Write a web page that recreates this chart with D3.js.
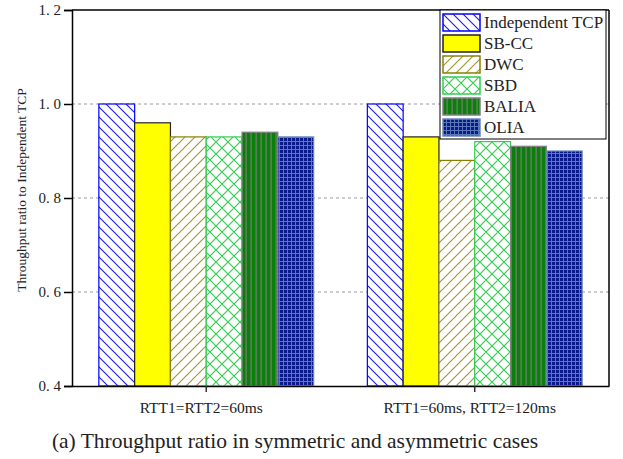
<!DOCTYPE html>
<html>
<head>
<meta charset="utf-8">
<script src="https://cdn.jsdelivr.net/npm/d3@7"></script>
<style>
  body { margin: 0; background: #fff; }
  svg text { font-family: "Liberation Serif", "Times New Roman", serif; }
</style>
</head>
<body>
<div id="chart"></div>
<script>
// chart data
var cases = ["RTT1=RTT2=60ms", "RTT1=60ms, RTT2=120ms"];
var schemes = ["Independent TCP", "SB-CC", "DWC", "SBD", "BALIA", "OLIA"];
var independentTcp = [1.00, 1.00];
var sbcc = [0.96, 0.93];
var dwc = [0.93, 0.88];
var sbd = [0.93, 0.92];
var balia = [0.94, 0.91];
var olia = [0.93, 0.90];
var yTicks = [0.4, 0.6, 0.8, 1.0, 1.2];

var seriesValues = [independentTcp, sbcc, dwc, sbd, balia, olia];

function main() {
    var margin = { top: 10, right: 14, bottom: 73, left: 72 };
    var width = 623 - margin.left - margin.right;
    var height = 459 - margin.top - margin.bottom;

    var svg = d3.select("#chart")
        .append("svg")
        .attr("width", 623)
        .attr("height", 459);

    // hatch patterns for each scheme
    var defs = svg.append("defs");

    var p1 = defs.append("pattern").attr("id", "pat0")
        .attr("patternUnits", "userSpaceOnUse").attr("width", 10).attr("height", 10);
    p1.append("rect").attr("width", 10).attr("height", 10).attr("fill", "#fff");
    p1.append("path").attr("d", "M-5,-5L15,15M-5,5L5,15M5,-5L15,5")
        .attr("stroke", "#1a1aff").attr("stroke-width", 1.1);

    var p3 = defs.append("pattern").attr("id", "pat2")
        .attr("patternUnits", "userSpaceOnUse").attr("width", 10).attr("height", 10);
    p3.append("rect").attr("width", 10).attr("height", 10).attr("fill", "#fff");
    p3.append("path").attr("d", "M-5,15L15,-5M-5,5L5,-5M5,15L15,5")
        .attr("stroke", "#a09530").attr("stroke-width", 1.1);

    var p4 = defs.append("pattern").attr("id", "pat3")
        .attr("patternUnits", "userSpaceOnUse").attr("width", 12).attr("height", 12);
    p4.append("rect").attr("width", 12).attr("height", 12).attr("fill", "#fff");
    p4.append("path").attr("d", "M-6,-6L18,18M-6,6L6,18M6,-6L18,6M-6,18L18,-6M-6,6L6,-6M6,18L18,6")
        .attr("stroke", "#2ecc4a").attr("stroke-width", 1.1);

    var p5 = defs.append("pattern").attr("id", "pat4")
        .attr("patternUnits", "userSpaceOnUse").attr("width", 5).attr("height", 5);
    p5.append("rect").attr("width", 5).attr("height", 5).attr("fill", "#0a800a");
    p5.append("rect").attr("x", 3.5).attr("width", 1.2).attr("height", 5).attr("fill", "#7a7a7a");

    var p6 = defs.append("pattern").attr("id", "pat5")
        .attr("patternUnits", "userSpaceOnUse").attr("width", 4).attr("height", 4);
    p6.append("rect").attr("width", 4).attr("height", 4).attr("fill", "#0b1a8a");
    p6.append("rect").attr("x", 3).attr("width", 1).attr("height", 4).attr("fill", "#5a78b8");
    p6.append("rect").attr("y", 3).attr("width", 4).attr("height", 1).attr("fill", "#5a78b8");

    var fills = ["url(#pat0)", "#ffff00", "url(#pat2)", "url(#pat3)", "url(#pat4)", "url(#pat5)"];
    var strokes = ["#0000ff", "#222", "#8a8000", "#33cc55", "#808080", "#6a88b8"];

    var g = svg.append("g")
        .attr("transform", "translate(" + margin.left + "," + margin.top + ")");

    // scales
    var x0 = d3.scaleBand()
        .domain(cases)
        .range([0, width])
        .paddingInner(0.2)
        .paddingOuter(0.1);
    var x1 = d3.scaleBand()
        .domain(schemes)
        .range([0, x0.bandwidth()]);
    var y = d3.scaleLinear()
        .domain([0.4, 1.2])
        .range([height, 0]);

    // dashed grid
    g.append("g")
        .selectAll("line")
        .data(yTicks.filter(function (d) { return d > 0.4 && d < 1.2; }))
        .enter()
        .append("line")
        .attr("x1", 0).attr("x2", width)
        .attr("y1", function (d) { return y(d); })
        .attr("y2", function (d) { return y(d); })
        .attr("stroke", "#9a9a9a")
        .attr("stroke-dasharray", "3,3");

    // bars
    var rows = [];
    cases.forEach(function (c, ci) {
        schemes.forEach(function (s, si) {
            rows.push({ c: c, s: s, si: si, v: seriesValues[si][ci] });
        });
    });

    g.selectAll(".bar")
        .data(rows)
        .enter()
        .append("rect")
        .attr("class", "bar")
        .attr("x", function (d) { return x0(d.c) + x1(d.s); })
        .attr("y", function (d) { return y(d.v); })
        .attr("width", x1.bandwidth())
        .attr("height", function (d) { return height - y(d.v); })
        .attr("fill", function (d) { return fills[d.si]; })
        .attr("stroke", function (d) { return strokes[d.si]; })
        .attr("stroke-width", 1.2);

    // box top and right
    g.append("line").attr("x1", 0).attr("x2", width).attr("y1", 0).attr("y2", 0)
        .attr("stroke", "#000").attr("stroke-width", 1.5);
    g.append("line").attr("x1", width).attr("x2", width).attr("y1", 0).attr("y2", height)
        .attr("stroke", "#000").attr("stroke-width", 1.5);

    // Y axis
    var yAxis = g.append("g")
        .call(d3.axisLeft(y).tickValues(yTicks).tickSize(8).tickPadding(3)
            .tickFormat(function (d) { return d3.format(".1f")(d).replace(".", ". "); }));
    yAxis.select(".domain").attr("stroke-width", 1.5);
    yAxis.selectAll(".tick line").attr("stroke-width", 1.5);
    yAxis.selectAll("text")
        .style("font-family", "'Liberation Serif', serif")
        .style("font-size", "15px")
        .attr("fill", "#222");

    // X axis
    var xAxis = g.append("g")
        .attr("transform", "translate(0," + height + ")")
        .call(d3.axisBottom(x0).tickSize(6).tickSizeOuter(0).tickPadding(10));
    xAxis.select(".domain").attr("stroke-width", 1.5);
    xAxis.selectAll(".tick line").attr("stroke-width", 1.5).attr("stroke", "#333");
    xAxis.selectAll("text")
        .attr("x", -5)
        .style("font-family", "'Liberation Serif', serif")
        .style("font-size", "15.5px")
        .attr("fill", "#222");

    // Y axis label
    g.append("text")
        .attr("transform", "rotate(-90)")
        .attr("x", -height / 2 + 8)
        .attr("y", -46)
        .attr("text-anchor", "middle")
        .style("font-size", "13.5px")
        .attr("fill", "#222")
        .text("Throughput ratio to Independent TCP");

    // legend
    var legend = g.append("g").attr("transform", "translate(368,0)");
    legend.append("rect")
        .attr("width", 166).attr("height", 129)
        .attr("fill", "#fff").attr("stroke", "#000").attr("stroke-width", 1);
    var item = legend.selectAll(".item")
        .data(schemes)
        .enter()
        .append("g")
        .attr("transform", function (d, i) { return "translate(3," + (4 + i * 21) + ")"; });
    item.append("rect")
        .attr("width", 37).attr("height", 17)
        .attr("fill", function (d, i) { return fills[i]; })
        .attr("stroke", function (d, i) { return strokes[i]; })
        .attr("stroke-width", 1.5);
    item.append("text")
        .attr("x", 41).attr("y", 14)
        .style("font-size", "17px")
        .attr("fill", "#222")
        .text(function (d) { return d; });

    // caption
    svg.append("text")
        .attr("x", 295).attr("y", 448)
        .attr("text-anchor", "middle")
        .style("font-size", "21.5px")
        .attr("fill", "#222")
        .text("(a) Throughput ratio in symmetric and asymmetric cases");
}
window.addEventListener('load', main);
</script>
</body>
</html>
